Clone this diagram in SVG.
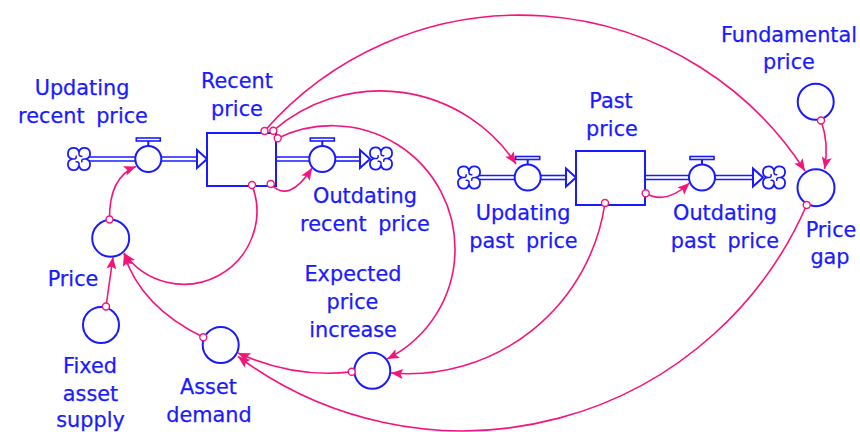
<svg xmlns="http://www.w3.org/2000/svg" width="860" height="432" viewBox="0 0 860 432">
  <style>
    .lbl { font-family: "DejaVu Sans", Verdana, sans-serif; font-size: 20.8px; fill: #1a1aff; stroke: #1a1aff; stroke-width: 0.25; text-anchor: middle; word-spacing: 5px; }
    .stk { fill: #ffffff; stroke: #1a1aff; stroke-width: 2; }
    .aux { fill: #ffffff; stroke: #1a1aff; stroke-width: 2; }
    .pipe { stroke: #1a1aff; stroke-width: 1.6; fill: none; }
    .head { fill: #ffffff; stroke: #1a1aff; stroke-width: 2; stroke-linejoin: miter; }
    .cloud { fill: #ffffff; stroke: #1a1aff; stroke-width: 1.6; }
    .curl { fill: none; stroke: #1a1aff; stroke-width: 1.4; stroke-linecap: round; }
    .link { fill: none; stroke: #f5147a; stroke-width: 1.6; marker-end: url(#ah); }
    .tail { fill: #ffffff; stroke: #f5147a; stroke-width: 1.4; }
  </style>
  <defs>
    <marker id="ah" viewBox="0 0 12 10" refX="12" refY="5" markerWidth="13" markerHeight="10" orient="auto" markerUnits="userSpaceOnUse">
      <path d="M0,0 L12,5 L0,10 L2.5,5 z" fill="#f5147a"/>
    </marker>
    <!-- cloud (source / sink) centred on 0,0: four lobes with inner curls -->
    <g id="cloud" transform="scale(1.12)">
      <path class="cloud" d="M0,-6 A5,5 0 1 1 6,0 A5,5 0 1 1 0,6 A5,5 0 1 1 -6,0 A5,5 0 1 1 0,-6 Z"/>
      <path class="curl" d="M0,-6 Q-0.5,-2 2.5,-2.5"/>
      <path class="curl" d="M6,0 Q2,-0.5 2.5,2.5"/>
      <path class="curl" d="M0,6 Q0.5,2 -2.5,2.5"/>
      <path class="curl" d="M-6,0 Q-2,0.5 -2.5,-2.5"/>
    </g>
    <!-- valve centred on 0,0 -->
    <g id="valve">
      <line x1="0" y1="-13" x2="0" y2="-18" stroke="#1a1aff" stroke-width="2"/>
      <rect x="-12" y="-21" width="24" height="3" fill="#ffffff" stroke="#1a1aff" stroke-width="1.6"/>
      <circle cx="0" cy="0" r="13" fill="#ffffff" stroke="#1a1aff" stroke-width="2"/>
    </g>
  </defs>

  <rect width="860" height="432" fill="#ffffff"/>

  <!-- Recent price chain -->
  <g id="updating-recent-price">
    <line class="pipe" x1="88" y1="157" x2="135" y2="157"/>
    <line class="pipe" x1="88" y1="161" x2="135" y2="161"/>
    <line class="pipe" x1="161" y1="157" x2="198" y2="157"/>
    <line class="pipe" x1="161" y1="161" x2="198" y2="161"/>
    <path class="head" d="M197,150 L207,159 L197,168 Z"/>
    <use href="#cloud" x="79" y="159"/>
    <use href="#valve" x="148.3" y="159"/>
    <text class="lbl" x="82" y="95">Updating</text>
    <text class="lbl" x="83" y="123">recent price</text>
  </g>

  <g id="recent-price">
    <rect class="stk" x="207" y="133" width="69" height="53"/>
    <text class="lbl" x="237" y="88">Recent</text>
    <text class="lbl" x="237" y="116">price</text>
  </g>

  <g id="outdating-recent-price">
    <line class="pipe" x1="277" y1="157" x2="310" y2="157"/>
    <line class="pipe" x1="277" y1="161" x2="310" y2="161"/>
    <line class="pipe" x1="335" y1="157" x2="361" y2="157"/>
    <line class="pipe" x1="335" y1="161" x2="361" y2="161"/>
    <path class="head" d="M360,150 L370,159 L360,168 Z"/>
    <use href="#cloud" x="381" y="158.5"/>
    <use href="#valve" x="322.3" y="159"/>
    <text class="lbl" x="365" y="203">Outdating</text>
    <text class="lbl" x="365" y="230.5">recent price</text>
  </g>

  <!-- Past price chain -->
  <g id="updating-past-price">
    <line class="pipe" x1="478" y1="175.5" x2="515" y2="175.5"/>
    <line class="pipe" x1="478" y1="179.5" x2="515" y2="179.5"/>
    <line class="pipe" x1="540" y1="175.5" x2="567" y2="175.5"/>
    <line class="pipe" x1="540" y1="179.5" x2="567" y2="179.5"/>
    <path class="head" d="M566,168.5 L576,177.5 L566,186.5 Z"/>
    <use href="#cloud" x="469" y="177.5"/>
    <use href="#valve" x="527.7" y="177.5"/>
    <text class="lbl" x="523" y="220">Updating</text>
    <text class="lbl" x="523.5" y="248">past price</text>
  </g>

  <g id="past-price">
    <rect class="stk" x="576" y="151" width="69" height="54"/>
    <text class="lbl" x="611" y="108">Past</text>
    <text class="lbl" x="612" y="136">price</text>
  </g>

  <g id="outdating-past-price">
    <line class="pipe" x1="646" y1="175.5" x2="690" y2="175.5"/>
    <line class="pipe" x1="646" y1="179.5" x2="690" y2="179.5"/>
    <line class="pipe" x1="714" y1="175.5" x2="754" y2="175.5"/>
    <line class="pipe" x1="714" y1="179.5" x2="754" y2="179.5"/>
    <path class="head" d="M753,168.5 L763,177.5 L753,186.5 Z"/>
    <use href="#cloud" x="774" y="177.5"/>
    <use href="#valve" x="702" y="177.5"/>
    <text class="lbl" x="725" y="220">Outdating</text>
    <text class="lbl" x="725" y="248">past price</text>
  </g>

  <!-- Auxiliaries -->
  <g id="fundamental-price">
    <circle class="aux" cx="815.7" cy="101.7" r="18"/>
    <text class="lbl" x="789" y="41.5">Fundamental</text>
    <text class="lbl" x="789" y="69">price</text>
  </g>

  <g id="price-gap">
    <circle class="aux" cx="816" cy="187.7" r="18.5"/>
    <text class="lbl" x="831" y="237">Price</text>
    <text class="lbl" x="830" y="264">gap</text>
  </g>

  <g id="price">
    <circle class="aux" cx="110.7" cy="238.3" r="18.5"/>
    <text class="lbl" x="73" y="286">Price</text>
  </g>

  <g id="fixed-asset-supply">
    <circle class="aux" cx="101" cy="325" r="18"/>
    <text class="lbl" x="90" y="373">Fixed</text>
    <text class="lbl" x="90.5" y="400.5">asset</text>
    <text class="lbl" x="90.5" y="427">supply</text>
  </g>

  <g id="asset-demand">
    <circle class="aux" cx="220.7" cy="345" r="18"/>
    <text class="lbl" x="208.5" y="393.5">Asset</text>
    <text class="lbl" x="209" y="421.5">demand</text>
  </g>

  <g id="expected-price-increase">
    <circle class="aux" cx="372.3" cy="370.7" r="18"/>
    <text class="lbl" x="353" y="280.5">Expected</text>
    <text class="lbl" x="352.5" y="308.5">price</text>
    <text class="lbl" x="353" y="336.5">increase</text>
  </g>

  <!-- Information links -->
  <g id="connectors">
    <path class="link" d="M109.5,219.5 Q109,177 136,166.5"/>
    <path class="link" d="M270.7,184 Q289,204 312,168"/>
    <path class="link" d="M252,185 A73,73 0 0 1 124,253"/>
    <path class="link" d="M106,306.5 L113,257"/>
    <path class="link" d="M203.3,337.3 Q140.4,306.4 124,254"/>
    <path class="link" d="M351.7,371.7 Q295,378.7 238,353"/>
    <path class="link" d="M806.7,205 A375.6,375.6 0 0 1 238,356.5"/>
    <path class="link" d="M605,203 A199,199 0 0 1 391,373"/>
    <path class="link" d="M277.7,138.3 A123,123 0 0 1 455,248.5 A123,123 0 0 1 387,359"/>
    <path class="link" d="M273.3,130.7 A163,163 0 0 1 516,164"/>
    <path class="link" d="M264.5,131 A339,339 0 0 1 805,171"/>
    <path class="link" d="M821,120.5 Q829.3,143.5 824.5,169"/>
    <path class="link" d="M645.7,193.3 Q666,205 689.5,183"/>

    <circle class="tail" cx="109.5" cy="219.5" r="3.5"/>
    <circle class="tail" cx="270.7" cy="184" r="3.5"/>
    <circle class="tail" cx="252" cy="185" r="3.5"/>
    <circle class="tail" cx="106" cy="306.5" r="3.5"/>
    <circle class="tail" cx="203.3" cy="337.3" r="3.5"/>
    <circle class="tail" cx="351.7" cy="371.7" r="3.5"/>
    <circle class="tail" cx="806.7" cy="205" r="3.5"/>
    <circle class="tail" cx="605" cy="203" r="3.5"/>
    <circle class="tail" cx="277.7" cy="138.3" r="3.5"/>
    <circle class="tail" cx="273.3" cy="130.7" r="3.5"/>
    <circle class="tail" cx="264.5" cy="131" r="3.5"/>
    <circle class="tail" cx="821" cy="120.5" r="3.5"/>
    <circle class="tail" cx="645.7" cy="193.3" r="3.5"/>
  </g>
</svg>
